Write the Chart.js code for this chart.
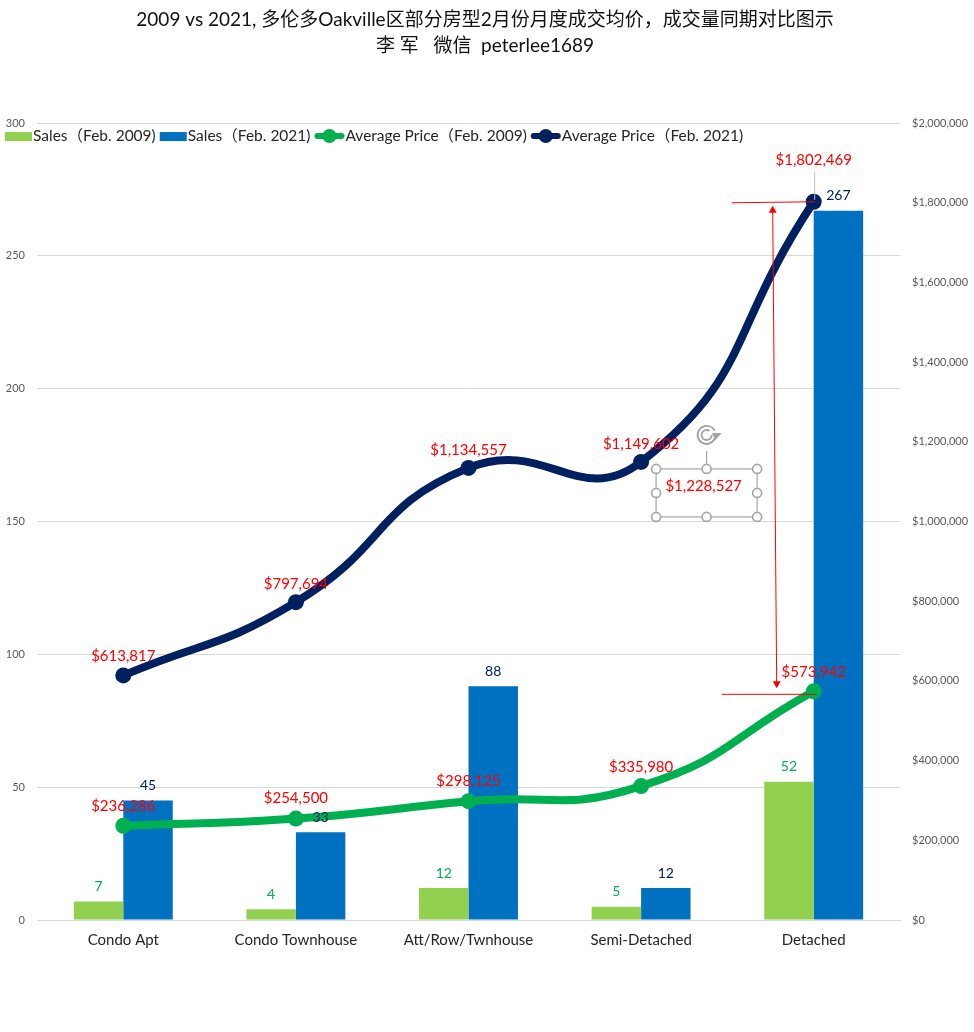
<!DOCTYPE html>
<html>
<head>
<meta charset="utf-8">
<title>Oakville</title>
<script src="https://cdn.jsdelivr.net/npm/chart.js@4"></script>
<style>
  html, body { margin: 0; padding: 0; background: #fff; }
  canvas { display: block; }
</style>
</head>
<body>
<canvas id="grafico" width="970" height="1032"></canvas>
<script>
const categorie = ["Condo Apt", "Condo Townhouse", "Att/Row/Twnhouse", "Semi-Detached", "Detached"];

const sales2009 = [7, 4, 12, 5, 52];
const sales2021 = [45, 33, 88, 12, 267];
const prezzi2009 = [236286, 254500, 298125, 335980, 573942];
const prezzi2021 = [613817, 797694, 1134557, 1149602, 1802469];

const titolo = ["2009 vs 2021, 多伦多Oakville区部分房型2月份月度成交均价，成交量同期对比图示", "李 军   微信  peterlee1689"];
const etichettaBox = "$1,228,527";

const FONT = 'Lato, "Noto Sans CJK SC", sans-serif';
const VERDE_BAR = "#92d050", BLU_BAR = "#0070c0", VERDE = "#00b050", NAVY = "#002060", ROSSO = "#ff0000", GRIGIO = "#a6a6a6";

const soldi = v => "$" + v.toLocaleString("en-US");

// spostamenti a mano delle etichette dei prezzi, come nel foglio
const spostaPrezzi2009 = [[0, -20], [0, -20], [0, -20], [0, -19], [0, -19]];
const spostaPrezzi2021 = [[0, -19], [0, -18], [0, -18], [0, -18], [0, -42]];

function scrivi(c, testo, x, y, colore, font) {
    c.fillStyle = colore;
    c.font = font;
    c.textAlign = "center";
    c.textBaseline = "middle";
    c.fillText(testo, x, y);
}

function linea(c, x1, y1, x2, y2, colore, spessore) {
    c.strokeStyle = colore;
    c.lineWidth = spessore;
    c.beginPath();
    c.moveTo(x1, y1);
    c.lineTo(x2, y2);
    c.stroke();
}

function punta(c, x, y, dir) {
    c.fillStyle = ROSSO;
    c.beginPath();
    c.moveTo(x, y);
    c.lineTo(x - 4, y - dir * 7);
    c.lineTo(x + 4, y - dir * 7);
    c.closePath();
    c.fill();
}

// etichette dei valori
const pluginEtichette = {
    id: "etichette",
    afterDatasetsDraw(chart) {
        const c = chart.ctx;
        c.save();
        chart.data.datasets.forEach((ds, i) => {
            const meta = chart.getDatasetMeta(i);
            meta.data.forEach((el, j) => {
                if (ds.type === "bar") {
                    scrivi(c, String(ds.data[j]), el.x, el.y - 15, ds.coloreEtichetta, "14px " + FONT);
                } else {
                    const s = ds.sposta[j];
                    scrivi(c, soldi(ds.data[j]), el.x + s[0], el.y + s[1], ROSSO, "15px " + FONT);
                }
            });
        });
        c.restore();
    }
};

// legenda sopra il grafico, come in Excel
const pluginLegenda = {
    id: "legendaExcel",
    afterDraw(chart) {
        const c = chart.ctx;
        const y = chart.scales.y.getPixelForValue(300) + 13;
        let x = 5;
        c.save();
        c.font = "15.5px " + FONT;
        c.textBaseline = "middle";
        c.textAlign = "left";
        chart.data.datasets.slice().sort((a, b) => a.posLegenda - b.posLegenda).forEach(ds => {
            if (ds.type === "bar") {
                c.fillStyle = ds.backgroundColor;
                c.fillRect(x, y - 4, 27, 9);
                x += 28;
            } else {
                c.lineCap = "round";
                linea(c, x + 3, y, x + 27, y, ds.borderColor, 6);
                c.fillStyle = ds.borderColor;
                c.beginPath();
                c.arc(x + 15, y, 7, 0, Math.PI * 2);
                c.fill();
                x += 31;
            }
            c.fillStyle = "#262626";
            c.fillText(ds.label, x, y);
            x += c.measureText(ds.label).width + 4;
        });
        c.restore();
    }
};

// frecce e casella selezionata, agganciate ai punti
const pluginNote = {
    id: "note",
    afterDraw(chart) {
        const c = chart.ctx;
        const iLast = categorie.length - 1;
        const pSemi = chart.getDatasetMeta(3).data[3];
        const pAlto = chart.getDatasetMeta(3).data[iLast];
        const pBasso = chart.getDatasetMeta(0).data[iLast];
        c.save();

        linea(c, pAlto.x + 1, pAlto.y - 30, pAlto.x + 1, pAlto.y - 2, "#bfbfbf", 1);
        linea(c, pAlto.x - 82, pAlto.y + 1, pAlto.x + 1, pAlto.y, ROSSO, 1);
        linea(c, pBasso.x - 92, pBasso.y + 3, pBasso.x + 3, pBasso.y + 3, ROSSO, 1);
        linea(c, pAlto.x - 41, pAlto.y + 8, pBasso.x - 37, pBasso.y - 8, ROSSO, 1);
        punta(c, pAlto.x - 41, pAlto.y + 4, -1);
        punta(c, pBasso.x - 37, pBasso.y - 3, 1);

        const l = pSemi.x + 15, r = pSemi.x + 116, t = pSemi.y + 7, b = pSemi.y + 55;
        const mx = (l + r) / 2, my = (t + b) / 2;
        scrivi(c, etichettaBox, mx - 3, t + 17, ROSSO, "15px " + FONT);
        c.strokeStyle = GRIGIO;
        c.lineWidth = 1.2;
        c.strokeRect(l, t, r - l, b - t);
        linea(c, mx, t, mx, t - 18, GRIGIO, 1.2);
        [[l, t], [mx, t], [r, t], [l, my], [r, my], [l, b], [mx, b], [r, b]].forEach(h => {
            c.beginPath();
            c.arc(h[0], h[1], 4.5, 0, Math.PI * 2);
            c.fillStyle = "#fff";
            c.fill();
            c.strokeStyle = GRIGIO;
            c.lineWidth = 1.6;
            c.stroke();
        });
        // maniglia di rotazione
        const ry = t - 34;
        c.strokeStyle = GRIGIO;
        c.lineWidth = 2;
        c.beginPath();
        c.arc(mx, ry, 9, -0.2, Math.PI * 1.85);
        c.stroke();
        c.beginPath();
        c.arc(mx, ry, 5, 0, Math.PI * 1.7);
        c.stroke();
        c.fillStyle = GRIGIO;
        c.beginPath();
        c.moveTo(mx + 5, ry - 2);
        c.lineTo(mx + 15, ry - 2);
        c.lineTo(mx + 9, ry + 5);
        c.closePath();
        c.fill();
        c.restore();
    }
};

const grafico = new Chart(document.getElementById("grafico").getContext("2d"), {
    data: {
        labels: categorie,
        datasets: [
            {
                type: "line",
                label: "Average Price（Feb. 2009)",
                data: prezzi2009,
                yAxisID: "y1",
                order: 1,
                posLegenda: 2,
                sposta: spostaPrezzi2009,
                borderColor: VERDE,
                backgroundColor: VERDE,
                borderWidth: 8,
                borderCapStyle: "round",
                tension: 0.5,
                pointRadius: 8,
                pointBackgroundColor: VERDE,
                pointBorderWidth: 0
            },
            {
                type: "bar",
                label: "Sales（Feb. 2009)",
                data: sales2009,
                yAxisID: "y",
                order: 2,
                posLegenda: 0,
                coloreEtichetta: VERDE,
                backgroundColor: VERDE_BAR,
                barPercentage: 1,
                categoryPercentage: 0.573
            },
            {
                type: "bar",
                label: "Sales（Feb. 2021)",
                data: sales2021,
                yAxisID: "y",
                order: 2,
                posLegenda: 1,
                coloreEtichetta: NAVY,
                backgroundColor: BLU_BAR,
                barPercentage: 1,
                categoryPercentage: 0.573
            },
            {
                type: "line",
                label: "Average Price（Feb. 2021)",
                data: prezzi2021,
                yAxisID: "y1",
                order: 0,
                posLegenda: 3,
                sposta: spostaPrezzi2021,
                borderColor: NAVY,
                backgroundColor: NAVY,
                borderWidth: 8,
                borderCapStyle: "round",
                tension: 0.5,
                pointRadius: 8,
                pointBackgroundColor: NAVY,
                pointBorderWidth: 0
            }
        ]
    },
    options: {
        responsive: false,
        animation: false,
        devicePixelRatio: 1,
        layout: { padding: 0 },
        plugins: {
            legend: { display: false },
            tooltip: { enabled: false },
            title: {
                display: true,
                text: titolo,
                color: "#111",
                font: { family: FONT, size: 19, weight: "normal", lineHeight: 1.37 },
                padding: { top: 7, bottom: 64 }
            }
        },
        scales: {
            x: {
                grid: { display: false },
                border: { color: "#d9d9d9" },
                ticks: { color: "#262626", font: { family: FONT, size: 15 }, padding: 3, maxRotation: 0, autoSkip: false },
                afterFit(s) { s.height = 112; }
            },
            y: {
                position: "left",
                min: 0,
                max: 300,
                grid: { color: "#d9d9d9", drawTicks: false },
                border: { display: false },
                ticks: { stepSize: 50, color: "#595959", font: { family: FONT, size: 11 }, padding: 12 },
                afterFit(s) { s.width = 37; }
            },
            y1: {
                position: "right",
                min: 0,
                max: 2000000,
                grid: { display: false },
                border: { display: false },
                ticks: { stepSize: 200000, color: "#595959", font: { family: FONT, size: 11 }, padding: 4, callback: v => soldi(v) },
                afterFit(s) { s.width = 70; }
            }
        }
    },
    plugins: [pluginEtichette, pluginLegenda, pluginNote]
});
</script>
</body>
</html>
